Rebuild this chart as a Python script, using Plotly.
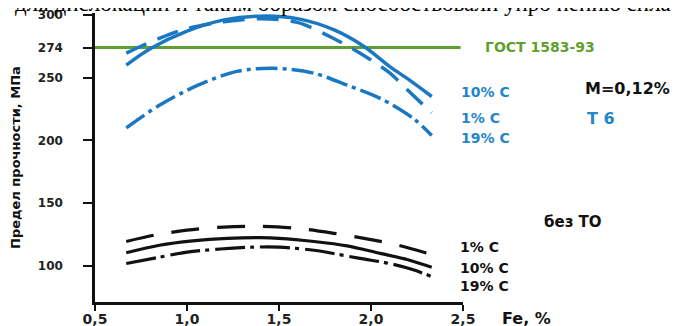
import plotly.graph_objects as go

# ---- data ----
fe_t6_10 = [0.67, 0.80, 1.00, 1.20, 1.40, 1.60, 1.80, 1.96, 2.11, 2.20, 2.33]
t6_10 = [260, 273, 287, 296, 299, 297, 288, 275, 258, 249, 235]

fe_t6_1 = [0.67, 0.75, 0.87, 1.00, 1.20, 1.40, 1.60, 1.80, 1.90, 2.00, 2.10, 2.20, 2.33]
t6_1 = [269.5, 275, 282.5, 289, 294.5, 297, 294, 281, 273, 264, 254, 240, 222]

fe_t6_19 = [0.67, 0.85, 1.06, 1.27, 1.47, 1.69, 1.87, 2.05, 2.23, 2.33]
t6_19 = [210, 228, 244, 255, 257.5, 253.5, 244, 233.5, 217.5, 204]

fe_raw_1 = [0.67, 0.82, 1.00, 1.20, 1.40, 1.60, 1.80, 2.00, 2.15, 2.31]
raw_1 = [119.5, 124.5, 128.5, 131, 131.5, 130, 126, 121, 116.5, 110]

fe_raw_10 = [0.67, 0.85, 1.03, 1.22, 1.40, 1.50, 1.69, 1.87, 2.05, 2.20, 2.33]
raw_10 = [110.5, 116.5, 120, 122, 122.5, 122, 119.5, 116, 110, 105, 99]

fe_raw_19 = [0.67, 0.85, 1.00, 1.18, 1.36, 1.50, 1.69, 1.94, 2.10, 2.23, 2.33]
raw_19 = [102, 107, 111, 113.5, 115, 115, 112.5, 106, 102, 97, 91.5]

gost_x = [0.5, 2.487]
gost_y = [274, 274]

x_ticks = [0.5, 1.0, 1.5, 2.0, 2.5]
x_ticktext = ["0,5", "1,0", "1,5", "2,0", "2,5"]
y_ticks = [100, 150, 200, 250, 274, 300]
y_ticktext = ["100", "150", "200", "250", "274", "300"]

BLUE = "#1a78c2"
BLUE_T = "#2585c9"
GREEN = "#5f9f2f"
BLACK = "#111111"

fig = go.Figure()

fig.add_trace(go.Scatter(x=gost_x, y=gost_y, mode="lines",
                         line=dict(color=GREEN, width=3), cliponaxis=False))

def add(xs, ys, color, dash, width):
    fig.add_trace(go.Scatter(x=xs, y=ys, mode="lines",
                             line=dict(color=color, width=width, dash=dash,
                                       shape="spline", smoothing=0.9),
                             cliponaxis=False))

add(fe_t6_10, t6_10, BLUE, "solid", 3.5)
add(fe_t6_1, t6_1, BLUE, "22px,12px", 3.5)
add(fe_t6_19, t6_19, BLUE, "22px,5px,4px,5px", 3.5)
add(fe_raw_1, raw_1, BLACK, "28px,18px", 3.2)
add(fe_raw_10, raw_10, BLACK, "solid", 3.2)
add(fe_raw_19, raw_19, BLACK, "30px,5px,4px,6px", 3.2)

# the page body adds an 8px offset; the layout compensates for it
OFF = 8
W, H = 692, 326
PW, PH = 368, 289
L, T = 95 - OFF, 13 - OFF
R, B = W - L - PW, H - T - PH

def px(xp):
    return (xp - OFF - L) / PW

def py(yp):
    return (T + PH - (yp - OFF)) / PH

def label(text, xl, yc, color, size, anchor="left"):
    fig.add_annotation(text=text, x=px(xl), y=py(yc), xref="paper", yref="paper",
                       xanchor=anchor, yanchor="middle", showarrow=False,
                       font=dict(family="DejaVu Sans", size=size, color=color, weight="bold"))

label("ГОСТ 1583-93", 483, 47, GREEN, 14)
label("10% C", 459, 92, BLUE_T, 14)
label("1% C", 459, 118, BLUE_T, 14)
label("19% C", 459, 138, BLUE_T, 14)
label("M=0,12%", 583, 88, BLACK, 16)
label("T 6", 585, 119, BLUE_T, 16)
label("без ТО", 542, 222, BLACK, 15)
label("1% C", 458, 247, BLACK, 14)
label("10% C", 458, 268, BLACK, 14)
label("19% C", 458, 286, BLACK, 14)
label("Fe, %", 500, 318, BLACK, 16)

fig.add_annotation(text="Предел прочности, МПа", x=px(15), y=py(158), xref="paper", yref="paper",
                   xanchor="center", yanchor="middle", showarrow=False, textangle=-90,
                   font=dict(family="DejaVu Sans", size=13, color=BLACK, weight="bold"))

fig.add_annotation(text="для дислокации и таким образом способствовали упро нению спла",
                   x=px(13), y=py(18.5), xref="paper", yref="paper",
                   xanchor="left", yanchor="bottom", showarrow=False,
                   font=dict(family="Liberation Serif", size=23, color="#000000"))

fig.update_layout(
    width=W, height=H,
    margin=dict(l=L, r=R, t=T, b=B, pad=0, autoexpand=False),
    paper_bgcolor="white", plot_bgcolor="white",
    showlegend=False,
    xaxis=dict(range=[0.5, 2.5], tickvals=x_ticks, ticktext=x_ticktext, automargin=False,
               showgrid=False, zeroline=False, showline=True, linecolor=BLACK, linewidth=2.5,
               ticks="outside", ticklen=6, tickwidth=2, tickcolor=BLACK,
               ticklabelstandoff=-4,
               tickfont=dict(family="DejaVu Sans", size=14, color="#222222", weight="bold")),
    yaxis=dict(range=[71.3, 301.5], tickvals=y_ticks, ticktext=y_ticktext, automargin=False,
               showgrid=False, zeroline=False, showline=True, linecolor=BLACK, linewidth=2.5,
               ticks="outside", ticklen=9, tickwidth=2, tickcolor=BLACK,
               ticklabelstandoff=18,
               tickfont=dict(family="DejaVu Sans", size=12, color="#222222", weight="bold")),
)

fig.write_html("out.html")
